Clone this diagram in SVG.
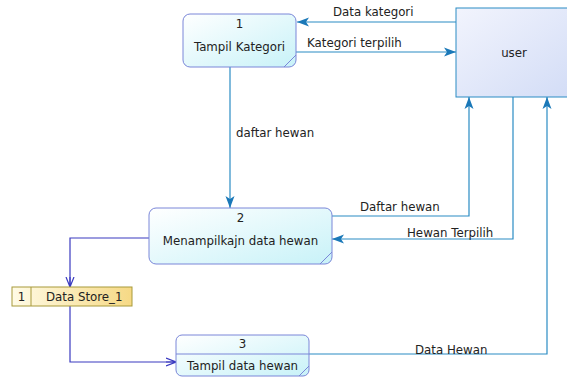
<svg xmlns="http://www.w3.org/2000/svg" width="567" height="378" viewBox="0 0 567 378">
<style>
.proc{fill:url(#pg);stroke:#7a86d8;stroke-width:1}
.t{font-family:"DejaVu Sans",Verdana,sans-serif;font-size:11.8px;fill:#222}
.l{font-family:"DejaVu Sans",Verdana,sans-serif;font-size:11.8px;fill:#222}
.c{fill:none;stroke:#2a8cc4;stroke-width:1.2}
.d{fill:none;stroke:#3a3ac0;stroke-width:1.2}
</style>
<defs>
<linearGradient id="pg" x1="0" y1="0" x2="1" y2="1">
<stop offset="0" stop-color="#ffffff"/>
<stop offset="1" stop-color="#c8f2f8"/>
</linearGradient>
<linearGradient id="ug" x1="0" y1="0" x2="1" y2="1">
<stop offset="0" stop-color="#f2f4fd"/>
<stop offset="1" stop-color="#d2dcf6"/>
</linearGradient>
<linearGradient id="dg" x1="0" y1="0" x2="1" y2="0">
<stop offset="0" stop-color="#fffbe6"/>
<stop offset="1" stop-color="#f6d985"/>
</linearGradient>
<marker id="ah" viewBox="0 0 12 10" refX="12" refY="5" markerWidth="12" markerHeight="10" markerUnits="userSpaceOnUse" orient="auto">
<path d="M0,0.5 L12,5 L0,9.5 L3,5 Z" fill="#1a78b8"/>
</marker>
<marker id="oa" viewBox="0 0 10 10" refX="10" refY="5" markerWidth="10" markerHeight="10" markerUnits="userSpaceOnUse" orient="auto">
<path d="M0,1 L10,5 L0,9 M0,5 L10,5" fill="none" stroke="#3a3ac0" stroke-width="1.2"/>
</marker>
</defs>
<rect width="567" height="378" fill="#ffffff"/>

<g id="connectors">
<path class="c" d="M456,22 H297" marker-end="url(#ah)"/>
<path class="c" d="M296,52 H456" marker-end="url(#ah)"/>
<path class="c" d="M230,67 V208" marker-end="url(#ah)"/>
<path class="c" d="M332,216 H469 V97" marker-end="url(#ah)"/>
<path class="c" d="M513,97 V239 H332" marker-end="url(#ah)"/>
<path class="c" d="M309,354 H547 V97" marker-end="url(#ah)"/>
<path class="d" d="M149,238 H70 V287" marker-end="url(#oa)"/>
<path class="d" d="M70,306 V362 H176" marker-end="url(#oa)"/>
<text class="l" x="333" y="16">Data kategori</text>
<text class="l" x="307" y="47">Kategori terpilih</text>
<text class="l" x="236" y="137">daftar hewan</text>
<text class="l" x="360" y="211">Daftar hewan</text>
<text class="l" x="407" y="237">Hewan Terpilih</text>
<text class="l" x="415" y="354">Data Hewan</text>
</g>

<g id="user">
<rect x="456" y="8" width="120" height="89" fill="url(#ug)" stroke="#2a8cc4" stroke-width="1"/>
<text class="l" x="514" y="57" text-anchor="middle" font-size="10.5">user</text>
</g>

<g id="p1">
<rect class="proc" x="183" y="14" width="113" height="53" rx="7"/>
<path d="M284,67 L296,55" stroke="#7a86d8" fill="none"/>
<text class="t" x="239.5" y="28" text-anchor="middle">1</text>
<text class="t" x="239.5" y="51" text-anchor="middle">Tampil Kategori</text>
</g>

<g id="p2">
<rect class="proc" x="149" y="208" width="183" height="56" rx="7"/>
<path d="M320,264 L332,252" stroke="#7a86d8" fill="none"/>
<text class="t" x="240.5" y="222" text-anchor="middle">2</text>
<text class="t" x="240.5" y="245" text-anchor="middle">Menampilkajn data hewan</text>
</g>

<g id="p3">
<rect class="proc" x="176" y="335" width="133" height="41" rx="6"/>
<path d="M176,354 H309" stroke="#7a86d8" fill="none"/>
<path d="M299,376 L309,366" stroke="#7a86d8" fill="none"/>
<text class="t" x="242.5" y="348" text-anchor="middle">3</text>
<text class="t" x="242.5" y="370" text-anchor="middle">Tampil data hewan</text>
</g>

<g id="ds1">
<rect x="12" y="287" width="120" height="19" fill="url(#dg)" stroke="#a89a3a" stroke-width="1"/>
<path d="M31,287 V306" stroke="#a89a3a" fill="none"/>
<text class="t" x="21.5" y="301" text-anchor="middle">1</text>
<text class="t" x="46" y="301">Data Store_1</text>
</g>
</svg>
